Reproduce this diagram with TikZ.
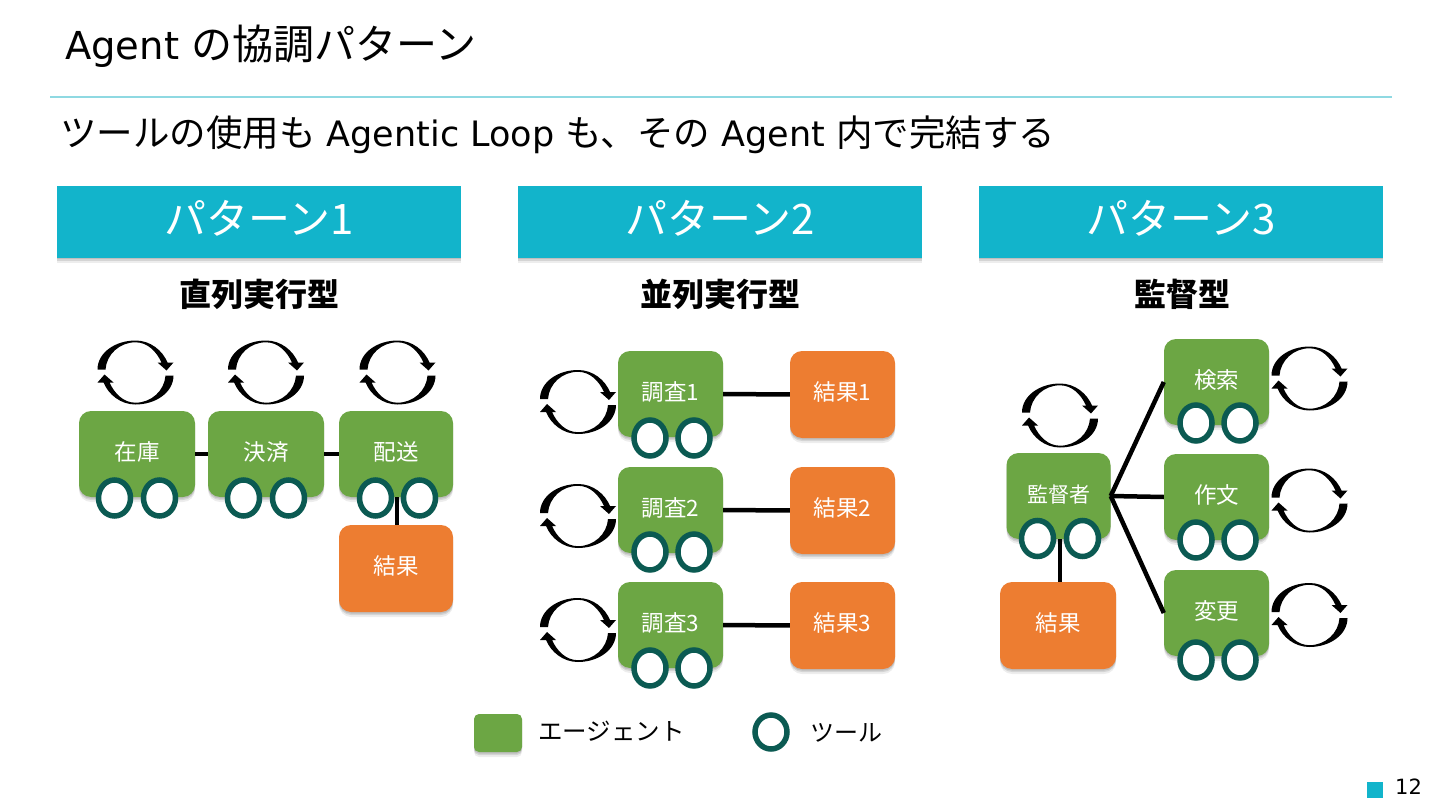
\documentclass[tikz,border=0pt]{standalone}
\usepackage{fontspec}
\usepackage{xcolor}
\usetikzlibrary{shapes.geometric,shadows}
\setmainfont{DejaVu Sans}
\newfontfamily\jp{Noto Sans CJK JP}
\definecolor{agA1}{HTML}{6CA644}
\definecolor{agA2}{HTML}{ED7D31}
\definecolor{agA3}{HTML}{12B4CB}
\definecolor{agA4}{HTML}{0B5A52}
\definecolor{agA5}{HTML}{8FD9E2}
\def\fs#1{\fontsize{#1}{#1}\selectfont}
\def\looparc{(-38,-3) .. controls (-38,-20) and (-20,-32) .. (0,-32) .. controls (15,-32) and (27,-22) .. (32,-10) -- (38,-10) -- (31,-2) -- (22,-10) -- (26,-10) .. controls (21,-21) and (12,-30.2) .. (0,-30.2) .. controls (-16,-30.2) and (-29,-18) .. (-30,-3) -- cycle}
\tikzset{
  boxshadow/.style={general shadow={shadow yshift=-5pt,opacity=.07,fill=black},general shadow={shadow yshift=-3pt,opacity=.1,fill=black},general shadow={shadow yshift=-1.5pt,opacity=.1,fill=black}},
  agentbox/.style={fill=agA1,rounded corners=12pt,minimum height=86pt,text=white,inner sep=0pt,boxshadow,font=\jp\fs{22.5},text height=18pt,text depth=6pt},
  resultbox/.style={fill=agA2,rounded corners=12pt,minimum height=87pt,text=white,inner sep=0pt,boxshadow,font=\jp\fs{22.5},text height=18pt,text depth=6pt},
  headbar/.style={fill=agA3,minimum width=404pt,minimum height=72pt,text=white,inner sep=0pt,boxshadow,font=\jp\fs{42},text height=34pt,text depth=8pt},
  subhead/.style={font=\jp\bfseries\fs{32}},
  toolring/.style={ellipse,draw=agA4,line width=5.5pt,fill=white,minimum width=32pt,minimum height=36pt,inner sep=0pt},
  link/.style={line width=4.5pt,black},
  pics/loopmark/.style={code={\fill[black]\looparc;\fill[black,rotate=180]\looparc;}},
}
\begin{document}
\begin{tikzpicture}[x=1pt,y=-1pt]
\useasboundingbox (0,0) rectangle (1440,810);
\fill[white] (0,0) rectangle (1440,810);
% title
\node[anchor=west,inner sep=0pt,font=\fs{38.5}] (title) at (65,46) {Agent {\jp\fs{41}の協調パターン}};
\draw[agA5,line width=1.2pt] (50,97) -- (1392,97);
\node[anchor=west,inner sep=0pt,font=\fs{35}] (lead) at (60,135) {{\jp\fs{36.5}ツールの使用も} Agentic Loop {\jp\fs{36.5}も、その} Agent {\jp\fs{36.5}内で完結する}};
% headers
\node[headbar] (headA) at (259,222) {パターン1};
\node[headbar] (headB) at (720,222) {パターン2};
\node[headbar] (headC) at (1181,222) {パターン3};
\node[subhead] (subA) at (259,294) {直列実行型};
\node[subhead] (subB) at (720.5,294) {並列実行型};
\node[subhead] (subC) at (1182.5,294) {監督型};
% pattern 1
\node[agentbox,minimum width=116pt] (stock) at (137,454) {在庫};
\node[agentbox,minimum width=116pt] (pay) at (266,454) {決済};
\node[agentbox,minimum width=114pt] (ship) at (396,454) {配送};
\node[resultbox,minimum width=114pt] (resA) at (396,568.5) {結果};
\draw[link] (stock) -- (pay);
\draw[link] (pay) -- (ship);
\draw[link] ([xshift=1pt]ship.south) -- ([xshift=1pt]ship.south|-resA.north);
\node[toolring] (stockT1) at (114.5,498) {};
\node[toolring] (stockT2) at (159.5,498) {};
\node[toolring] (payT1) at (243.5,498) {};
\node[toolring] (payT2) at (288.5,498) {};
\node[toolring] (shipT1) at (375.5,498) {};
\node[toolring] (shipT2) at (419.5,498) {};
\pic at (135.5,372.5) {loopmark};
\pic at (266,372.5) {loopmark};
\pic at (397.5,372.5) {loopmark};
% pattern 2
\node[agentbox,minimum width=105pt] (srchA) at (670.5,394) {調査1};
\node[agentbox,minimum width=105pt] (srchB) at (670.5,510) {調査2};
\node[agentbox,minimum width=105pt] (srchC) at (670.5,625) {調査3};
\node[resultbox,minimum width=105pt] (resB1) at (842.5,394.5) {結果1};
\node[resultbox,minimum width=105pt] (resB2) at (842.5,510.5) {結果2};
\node[resultbox,minimum width=105pt] (resB3) at (842.5,625.5) {結果3};
\draw[link] (srchA) -- (resB1);
\draw[link] (srchB) -- (resB2);
\draw[link] (srchC) -- (resB3);
\node[toolring] (srchAT1) at (650,438) {};
\node[toolring] (srchAT2) at (694,438) {};
\node[toolring] (srchBT1) at (650,552) {};
\node[toolring] (srchBT2) at (694,552) {};
\node[toolring] (srchCT1) at (650,668) {};
\node[toolring] (srchCT2) at (694,668) {};
\pic at (578,402) {loopmark};
\pic at (578,516) {loopmark};
\pic at (578,630) {loopmark};
% pattern 3
\node[agentbox,minimum width=104pt] (boss) at (1058.5,496) {\fs{21}監督者};
\node[resultbox,minimum width=116pt] (resC) at (1058,625.5) {結果};
\node[agentbox,minimum width=105pt] (find) at (1216.5,382) {検索};
\node[agentbox,minimum width=105pt] (write) at (1216.5,497) {作文};
\node[agentbox,minimum width=105pt] (edit) at (1216.5,613) {変更};
\draw[link] (boss.east) -- (find.west);
\draw[link] (boss.east) -- (write.west);
\draw[link] (boss.east) -- (edit.west);
\draw[link] ([xshift=1.5pt]boss.south) -- ([xshift=1.5pt]boss.south|-resC.north);
\node[toolring] (bossT1) at (1037.5,538.5) {};
\node[toolring] (bossT2) at (1082.5,538.5) {};
\node[toolring] (findT1) at (1196,423) {};
\node[toolring] (findT2) at (1240,423) {};
\node[toolring] (writeT1) at (1196,540) {};
\node[toolring] (writeT2) at (1240,540) {};
\node[toolring] (editT1) at (1196,660) {};
\node[toolring] (editT2) at (1240,660) {};
\pic at (1060,415.5) {loopmark};
\pic at (1309.5,378.5) {loopmark};
\pic at (1309.5,500.5) {loopmark};
\pic at (1309.5,615) {loopmark};
% legend
\node[fill=agA1,rounded corners=5pt,minimum width=48pt,minimum height=38pt,inner sep=0pt,boxshadow] (keyAgent) at (498,733) {};
\node[anchor=west,inner sep=0pt,font=\jp\fs{24.5}] (keyAgentT) at (538,731) {エージェント};
\node[toolring,minimum width=32pt,minimum height=34pt] (keyTool) at (771,732) {};
\node[anchor=west,inner sep=0pt,font=\jp\fs{24}] (keyToolT) at (810,733) {ツール};
% page number
\fill[agA3] (1367,782) rectangle (1383,798);
\node[anchor=west,inner sep=0pt,font=\fs{21}] (page) at (1395,787) {12};
\end{tikzpicture}
\end{document}
